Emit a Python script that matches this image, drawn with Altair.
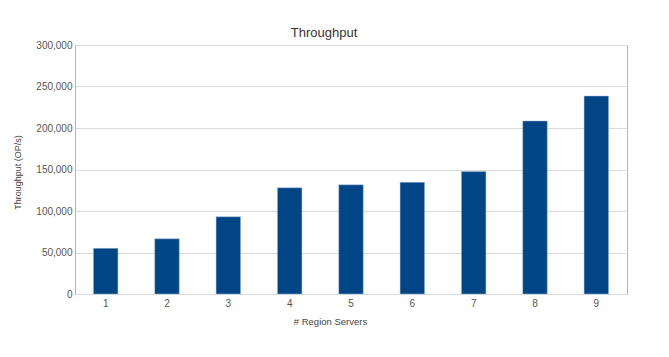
import altair as alt
import pandas as pd

servers = ["1", "2", "3", "4", "5", "6", "7", "8", "9"]
throughput = [55000, 66500, 93000, 128000, 131500, 134500, 147500, 208500, 238500]
y_ticks = [0, 50000, 100000, 150000, 200000, 250000, 300000]

df = pd.DataFrame({"servers": servers, "throughput": throughput})

FONT = "Liberation Sans"

chart = alt.Chart(df).mark_bar(color="#004586", stroke="#a9c0dc", strokeWidth=0.5).encode(
    x=alt.X("servers:N", sort=servers,
            scale=alt.Scale(paddingInner=0.6, paddingOuter=0.3),
            axis=alt.Axis(title="# Region Servers", labelAngle=0, ticks=False,
                          labelPadding=4, domain=False,
                          titleX=255, titleY=27,
                          titleAlign="center", titleBaseline="middle")),
    y=alt.Y("throughput:Q",
            scale=alt.Scale(domain=[0, 300000], nice=False),
            axis=alt.Axis(title="Throughput (OP/s)", format=",.0f",
                          values=y_ticks, labelOverlap=False,
                          ticks=False, labelPadding=3, domain=False,
                          gridColor="#d9d9d9", gridWidth=1,
                          titleX=-58, titleY=127, titleAngle=-90,
                          titleAlign="center", titleBaseline="middle")),
).properties(
    width=552,
    height=249,
    title=alt.TitleParams("Throughput", fontSize=13, font=FONT, color="#333333",
                          fontWeight="normal", anchor="middle", dx=-27, offset=0),
    autosize=alt.AutoSizeParams(type="none"),
    padding={"left": 75, "top": 45, "right": 42, "bottom": 63},
).configure_view(
    stroke="#b3b3b3", strokeWidth=1
).configure_axis(
    labelFont=FONT, labelFontSize=10, labelColor="#555555",
    titleFont=FONT, titleFontSize=9, titleColor="#444444", titleFontWeight="normal",
    grid=True,
).configure_axisX(grid=False, labelFontSize=10, titleFontSize=9.5)

chart.save("out.html", embed_options={"renderer": "svg", "actions": False})
